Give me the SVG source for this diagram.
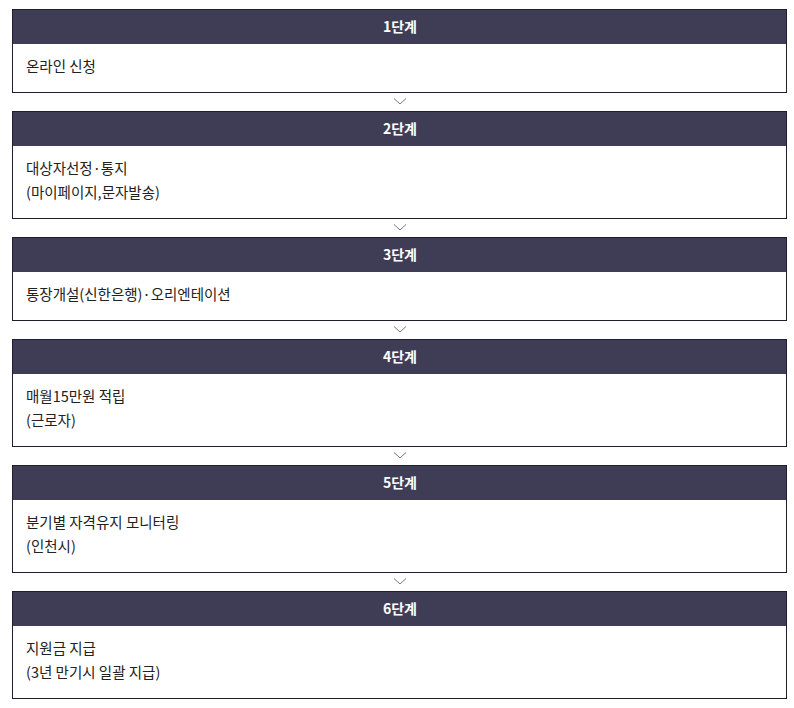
<svg xmlns="http://www.w3.org/2000/svg" width="794" height="708" viewBox="0 0 794 708">
<style>
.box{fill:#ffffff;stroke:#1f1e2e;stroke-width:1}
.hd{fill:#3f3d56}
.ht{font-family:"Noto Sans CJK KR","Noto Sans",sans-serif;font-size:14px;font-weight:bold;fill:#ffffff;text-anchor:middle}
.bt{font-family:"Noto Sans CJK KR","Noto Sans",sans-serif;font-size:14.5px;fill:#222222}
.chev{fill:none;stroke:#777777;stroke-width:1}
</style>
<rect width="794" height="708" fill="#ffffff"/>
<g id="step1">
<rect class="box" x="12.5" y="9.5" width="774" height="83"/>
<rect class="hd" x="13" y="10" width="773" height="34"/>
<text class="ht" x="400" y="32">1단계</text>
<text class="bt" x="26" y="72">온라인 신청</text>
</g>
<g id="step2">
<rect class="box" x="12.5" y="111.5" width="774" height="107"/>
<rect class="hd" x="13" y="112" width="773" height="34"/>
<text class="ht" x="400" y="134">2단계</text>
<text class="bt" x="26" y="174">대상자선정·통지</text>
<text class="bt" x="26" y="198">(마이페이지,문자발송)</text>
</g>
<g id="step3">
<rect class="box" x="12.5" y="237.5" width="774" height="83"/>
<rect class="hd" x="13" y="238" width="773" height="34"/>
<text class="ht" x="400" y="260">3단계</text>
<text class="bt" x="26" y="300">통장개설(신한은행)·오리엔테이션</text>
</g>
<g id="step4">
<rect class="box" x="12.5" y="339.5" width="774" height="107"/>
<rect class="hd" x="13" y="340" width="773" height="34"/>
<text class="ht" x="400" y="362">4단계</text>
<text class="bt" x="26" y="402">매월15만원 적립</text>
<text class="bt" x="26" y="426">(근로자)</text>
</g>
<g id="step5">
<rect class="box" x="12.5" y="465.5" width="774" height="107"/>
<rect class="hd" x="13" y="466" width="773" height="34"/>
<text class="ht" x="400" y="488">5단계</text>
<text class="bt" x="26" y="528">분기별 자격유지 모니터링</text>
<text class="bt" x="26" y="552">(인천시)</text>
</g>
<g id="step6">
<rect class="box" x="12.5" y="591.5" width="774" height="107"/>
<rect class="hd" x="13" y="592" width="773" height="34"/>
<text class="ht" x="400" y="614">6단계</text>
<text class="bt" x="26" y="654">지원금 지급</text>
<text class="bt" x="26" y="678">(3년 만기시 일괄 지급)</text>
</g>
<g id="connectors">
<polyline class="chev" points="394,98.5 400,104 406,98.5"/>
<polyline class="chev" points="394,224.5 400,230 406,224.5"/>
<polyline class="chev" points="394,326.5 400,332 406,326.5"/>
<polyline class="chev" points="394,452.5 400,458 406,452.5"/>
<polyline class="chev" points="394,578.5 400,584 406,578.5"/>
</g>
</svg>
